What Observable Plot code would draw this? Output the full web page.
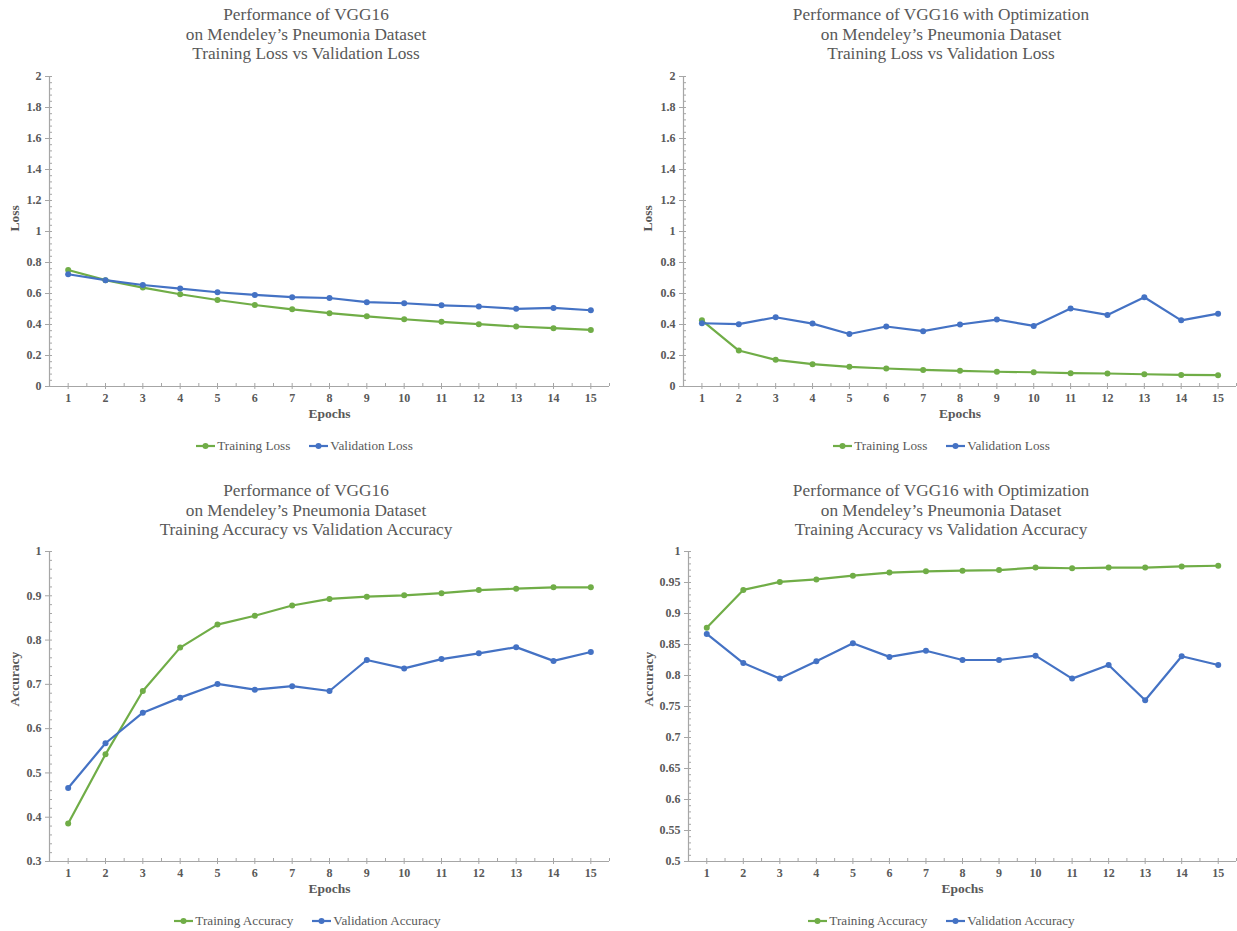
<!DOCTYPE html>
<html><head><meta charset="utf-8">
<script src="https://cdn.jsdelivr.net/npm/d3@7"></script>
<script src="https://cdn.jsdelivr.net/npm/@observablehq/plot@0.6"></script>
<style>
body{margin:0;background:#fff;}
#root{position:relative;width:1237px;height:931px;font-family:"Liberation Serif","Times New Roman",serif;color:#595959;overflow:hidden;}
.title{position:absolute;width:600px;text-align:center;font-size:17.3px;line-height:19.7px;}
.legend{position:absolute;width:500px;height:16px;display:flex;justify-content:center;align-items:center;gap:18px;font-size:13.2px;}
.legend span.item{display:flex;align-items:center;gap:1px;}
.panel{position:absolute;}
</style></head>
<body><div id="root"></div>
<script>
// ---- data ----
const epochs = [1, 2, 3, 4, 5, 6, 7, 8, 9, 10, 11, 12, 13, 14, 15];

const vggTrainLoss = [0.752, 0.686, 0.638, 0.595, 0.558, 0.526, 0.498, 0.473, 0.453, 0.434, 0.417, 0.402, 0.387, 0.376, 0.365];
const vggValLoss   = [0.724, 0.686, 0.655, 0.632, 0.608, 0.591, 0.576, 0.571, 0.544, 0.537, 0.524, 0.516, 0.501, 0.507, 0.492];

const optTrainLoss = [0.427, 0.232, 0.172, 0.144, 0.127, 0.116, 0.107, 0.101, 0.095, 0.092, 0.086, 0.084, 0.079, 0.075, 0.073];
const optValLoss   = [0.408, 0.402, 0.447, 0.406, 0.339, 0.387, 0.357, 0.400, 0.432, 0.391, 0.503, 0.462, 0.576, 0.427, 0.470];

const vggTrainAcc = [0.386, 0.542, 0.685, 0.783, 0.835, 0.855, 0.878, 0.893, 0.898, 0.901, 0.906, 0.913, 0.916, 0.919, 0.919];
const vggValAcc   = [0.466, 0.567, 0.636, 0.670, 0.701, 0.688, 0.696, 0.685, 0.755, 0.736, 0.757, 0.770, 0.784, 0.753, 0.773];

const optTrainAcc = [0.877, 0.938, 0.951, 0.955, 0.961, 0.966, 0.968, 0.969, 0.970, 0.974, 0.973, 0.974, 0.974, 0.976, 0.977];
const optValAcc   = [0.867, 0.820, 0.795, 0.823, 0.852, 0.830, 0.840, 0.825, 0.825, 0.832, 0.795, 0.817, 0.760, 0.831, 0.817];

const lossTicks = [0, 0.2, 0.4, 0.6, 0.8, 1, 1.2, 1.4, 1.6, 1.8, 2];
const accTicksA = [0.3, 0.4, 0.5, 0.6, 0.7, 0.8, 0.9, 1];
const accTicksB = [0.5, 0.55, 0.6, 0.65, 0.7, 0.75, 0.8, 0.85, 0.9, 0.95, 1];

const lossNames = ["Training Loss", "Validation Loss"];
const accNames = ["Training Accuracy", "Validation Accuracy"];

const titleVGG = ["Performance of VGG16", "on Mendeley\u2019s Pneumonia Dataset"];
const titleOpt = ["Performance of VGG16 with Optimization", "on Mendeley\u2019s Pneumonia Dataset"];
const subLoss = "Training Loss vs Validation Loss";
const subAcc = "Training Accuracy vs Validation Accuracy";

// ---- style ----
const green = "#70AD47", blue = "#4472C4";
const axisColor = "#a6a6a6", textColor = "#595959";

const panels = [
  {title: [...titleVGG, subLoss], names: lossNames, train: vggTrainLoss, val: vggValLoss, ticks: lossTicks, minorStep: 0.04, yLabel: "Loss",
   left: 0, top: 70, width: 618, ml: 49, mr: 9, yLabelDx: -35, titleTop: 5, titleCx: 306, legendTop: 438, legendCx: 304},
  {title: [...titleOpt, subLoss], names: lossNames, train: optTrainLoss, val: optValLoss, ticks: lossTicks, minorStep: 0.04, yLabel: "Loss",
   left: 618, top: 70, width: 619, ml: 65, mr: 1, yLabelDx: -36, titleTop: 5, titleCx: 941, legendTop: 438, legendCx: 941},
  {title: [...titleVGG, subAcc], names: accNames, train: vggTrainAcc, val: vggValAcc, ticks: accTicksA, minorStep: 0.02, yLabel: "Accuracy",
   left: 0, top: 545, width: 618, ml: 49, mr: 9, yLabelDx: -35, titleTop: 481, titleCx: 306, legendTop: 913, legendCx: 307},
  {title: [...titleOpt, subAcc], names: accNames, train: optTrainAcc, val: optValAcc, ticks: accTicksB, minorStep: 0.01, yLabel: "Accuracy",
   left: 618, top: 545, width: 619, ml: 70, mr: 1, yLabelDx: -40, titleTop: 481, titleCx: 941, legendTop: 913, legendCx: 941}
];

const root = document.getElementById("root");

function swatch(color) {
  const ns = "http://www.w3.org/2000/svg";
  const s = document.createElementNS(ns, "svg");
  s.setAttribute("width", 21); s.setAttribute("height", 10);
  const l = document.createElementNS(ns, "line");
  l.setAttribute("x1", 1); l.setAttribute("x2", 20); l.setAttribute("y1", 5); l.setAttribute("y2", 5);
  l.setAttribute("stroke", color); l.setAttribute("stroke-width", 2.2);
  const c = document.createElementNS(ns, "circle");
  c.setAttribute("cx", 10.5); c.setAttribute("cy", 5); c.setAttribute("r", 3); c.setAttribute("fill", color);
  s.append(l, c);
  return s;
}

for (const p of panels) {
  const yDomain = [p.ticks[0], p.ticks[p.ticks.length - 1]];
  const minor = d3.range(0, Math.round((yDomain[1] - yDomain[0]) / p.minorStep) + 1).map(i => yDomain[0] + i * p.minorStep);
  const upTicks = d3.range(0, 31).map(i => 0.5 + i * 0.5);
  const rows = epochs.flatMap((e, i) => [
    {epoch: e, value: p.train[i], series: p.names[0]},
    {epoch: e, value: p.val[i], series: p.names[1]}
  ]);

  const title = document.createElement("div");
  title.className = "title";
  title.style.left = (p.titleCx - 300) + "px";
  title.style.top = p.titleTop + "px";
  title.innerHTML = p.title.join("<br>");
  root.append(title);

  const chart = Plot.plot({
    width: p.width, height: 356,
    marginLeft: p.ml, marginRight: p.mr, marginTop: 6, marginBottom: 40,
    style: {fontFamily: "'Liberation Serif', 'Times New Roman', serif", background: "transparent", overflow: "visible"},
    x: {domain: [0.5, 15.5]},
    y: {domain: yDomain},
    color: {domain: p.names, range: [green, blue]},
    marks: [
      Plot.axisY({ticks: minor, tickSize: 3, dx: 3, tickFormat: () => "", label: null, stroke: axisColor}),
      Plot.axisY({ticks: p.ticks, tickSize: 4, tickPadding: 4, tickFormat: d => String(d), label: null,
        stroke: axisColor, fill: textColor, fontWeight: "bold", fontSize: 12}),
      Plot.axisX({ticks: upTicks, tickSize: 3, dy: -3, tickFormat: () => "", label: null, stroke: axisColor}),
      Plot.axisX({ticks: epochs, tickSize: 3, tickPadding: 4, tickFormat: d => String(d), label: null,
        stroke: axisColor, fill: textColor, fontWeight: "bold", fontSize: 12}),
      Plot.ruleX([0.5], {stroke: axisColor, strokeWidth: 1.2}),
      Plot.ruleY([yDomain[0]], {stroke: axisColor, strokeWidth: 1.2}),
      Plot.text(["Epochs"], {frameAnchor: "bottom", dy: 31, fontWeight: "bold", fontSize: 13.5, fill: textColor}),
      Plot.text([p.yLabel], {frameAnchor: "left", rotate: -90, dx: p.yLabelDx, fontWeight: "bold", fontSize: 13.5, fill: textColor}),
      Plot.line(rows, {x: "epoch", y: "value", z: "series", stroke: "series", strokeWidth: 2.2}),
      Plot.dot(rows, {x: "epoch", y: "value", fill: "series", r: 3})
    ]
  });
  const wrap = document.createElement("div");
  wrap.className = "panel";
  wrap.style.left = p.left + "px";
  wrap.style.top = p.top + "px";
  wrap.append(chart);
  root.append(wrap);

  const legend = document.createElement("div");
  legend.className = "legend";
  legend.style.left = (p.legendCx - 250) + "px";
  legend.style.top = p.legendTop + "px";
  p.names.forEach((n, i) => {
    const item = document.createElement("span");
    item.className = "item";
    const t = document.createElement("span");
    t.textContent = n;
    item.append(swatch(i === 0 ? green : blue), t);
    legend.append(item);
  });
  root.append(legend);
}
</script>
</body></html>
